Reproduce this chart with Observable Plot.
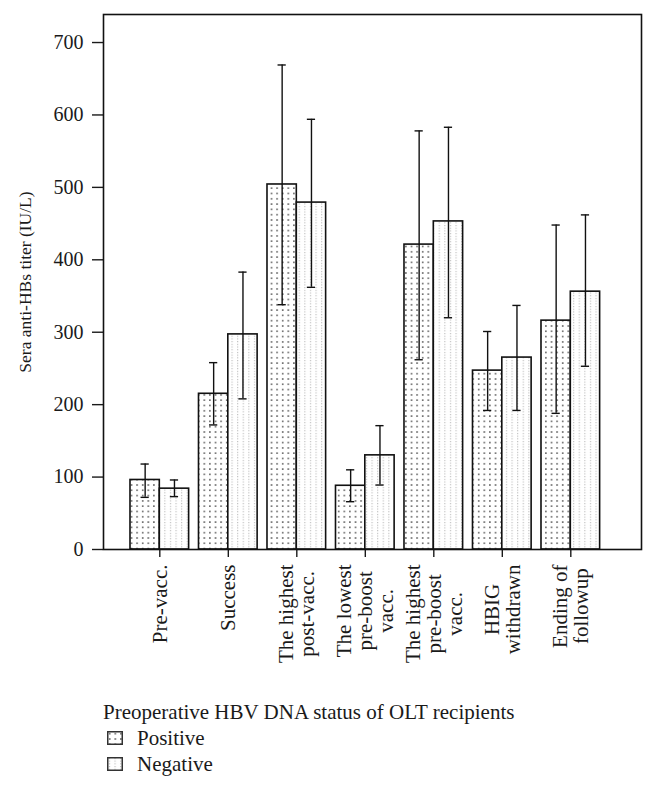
<!DOCTYPE html>
<html>
<head>
<meta charset="utf-8">
<script src="https://cdn.jsdelivr.net/npm/d3@7"></script>
<script src="https://cdn.jsdelivr.net/npm/@observablehq/plot@0.6"></script>
<style>
  body { margin: 0; background: #fff; font-family: "Liberation Serif", serif; color: #1a1a1a; }
  #chart svg { display: block; }
  #legend { margin-left: 103px; margin-top: 9px; font-size: 21px; line-height: 26px; }
  #legend .item { display: flex; align-items: center; margin-left: 4px; }
  #legend .item svg { margin-right: 14px; }
</style>
</head>
<body>
<div id="chart"></div>
<div id="legend"></div>
<script>
// ---- data ----
const categories = [
  "Pre-vacc.",
  "Success",
  "The highest\npost-vacc.",
  "The lowest\npre-boost\nvacc.",
  "The highest\npre-boost\nvacc.",
  "HBIG\nwithdrawn",
  "Ending of\nfollowup"
];
const seriesNames = ["Positive", "Negative"];
const positiveMean = [96, 215, 504, 88, 421, 247, 316];
const positiveLow  = [72, 172, 338, 66, 262, 192, 188];
const positiveHigh = [118, 258, 669, 110, 578, 301, 448];
const negativeMean = [84, 297, 479, 130, 453, 265, 356];
const negativeLow  = [73, 208, 362, 89, 320, 192, 253];
const negativeHigh = [96, 383, 594, 171, 583, 337, 462];
const yTicks = [0, 100, 200, 300, 400, 500, 600, 700];
const yLabel = "Sera anti-HBs titer (IU/L)";
const legendTitle = "Preoperative HBV DNA status of OLT recipients";

// ---- build table ----
const rows = [];
categories.forEach((c, i) => {
  rows.push({i, category: c, series: "Positive", mean: positiveMean[i], low: positiveLow[i], high: positiveHigh[i]});
  rows.push({i, category: c, series: "Negative", mean: negativeMean[i], low: negativeLow[i], high: negativeHigh[i]});
});

const HALF = 0.428;  // bar width in group-step units
const CAP = 0.06;    // error cap half width
const left = d => d.series === "Positive" ? d.i - HALF : d.i;
const right = d => d.series === "Positive" ? d.i : d.i + HALF;
const mid = d => d.series === "Positive" ? d.i - HALF / 2 : d.i + HALF / 2;

const svg = Plot.plot({
  width: 656,
  height: 690,
  marginLeft: 103,
  marginRight: 15,
  marginTop: 14,
  marginBottom: 141,
  style: {fontFamily: "Liberation Serif, serif", fontSize: "20px", color: "#1a1a1a", background: "white"},
  x: {type: "linear", domain: [-0.822, 7.032]},
  y: {domain: [0, 738.7]},
  color: {type: "ordinal", domain: seriesNames, range: ["url(#patPos)", "url(#patNeg)"]},
  marks: [
    Plot.rect(rows, {x1: left, x2: right, y1: 0, y2: "mean", fill: "series", stroke: "#111", strokeWidth: 1.6}),
    Plot.ruleX(rows, {x: mid, y1: "low", y2: "high", stroke: "#111", strokeWidth: 1.4}),
    Plot.ruleY(rows, {y: "high", x1: d => mid(d) - CAP, x2: d => mid(d) + CAP, stroke: "#111", strokeWidth: 1.4}),
    Plot.ruleY(rows, {y: "low", x1: d => mid(d) - CAP, x2: d => mid(d) + CAP, stroke: "#111", strokeWidth: 1.4}),
    Plot.axisY({ticks: yTicks, tickSize: 11, tickPadding: 9, fontSize: 20, label: null, strokeWidth: 1.4}),
    Plot.axisY({ticks: [], tickSize: 0, fontSize: 17.5, label: yLabel, labelAnchor: "center", labelOffset: 85, labelArrow: false}),
    Plot.axisX({ticks: d3.range(categories.length), tickFormat: i => categories[i], tickSize: 8, tickPadding: 7,
                tickRotate: -90, fontSize: 21, lineHeight: 1, label: null, strokeWidth: 1.4}),
    Plot.frame({stroke: "#111", strokeWidth: 1.6})
  ]
});

document.getElementById("chart").append(svg);

// patterns used as fills
function addPatterns(sel) {
  const defs = sel.insert("defs", ":first-child");
  const p1 = defs.append("pattern").attr("id", "patPos").attr("patternUnits", "userSpaceOnUse")
    .attr("width", 5.6).attr("height", 5.3);
  p1.append("rect").attr("width", 5.6).attr("height", 5.3).attr("fill", "white");
  p1.append("rect").attr("x", 2).attr("y", 2).attr("width", 1.4).attr("height", 1.4).attr("fill", "#333");
  const p2 = defs.append("pattern").attr("id", "patNeg").attr("patternUnits", "userSpaceOnUse")
    .attr("width", 5.6).attr("height", 2.7);
  p2.append("rect").attr("width", 5.6).attr("height", 2.7).attr("fill", "white");
  p2.append("rect").attr("x", 2).attr("y", 1).attr("width", 1).attr("height", 1).attr("fill", "#aaa");
}
addPatterns(d3.select(svg));

// center multi-line tick labels within their block
d3.select(svg).selectAll('g[aria-label="x-axis tick label"] text').each(function() {
  const spans = this.querySelectorAll("tspan");
  if (spans.length < 2) return;
  let L = 0;
  spans.forEach(s => { L = Math.max(L, s.getComputedTextLength()); });
  this.setAttribute("text-anchor", "middle");
  spans.forEach(s => s.setAttribute("x", -L / 2));
});

// legend
const legend = d3.select("#legend");
legend.append("div").text(legendTitle);
seriesNames.forEach((s, k) => {
  const item = legend.append("div").attr("class", "item");
  const sw = item.append("svg").attr("width", 16).attr("height", 14);
  sw.append("rect").attr("x", 0.75).attr("y", 0.75).attr("width", 14.5).attr("height", 12.5)
    .attr("fill", k === 0 ? "url(#patPos)" : "url(#patNeg)").attr("stroke", "#333").attr("stroke-width", 1.5);
  item.append("span").text(s);
});
</script>
</body>
</html>
